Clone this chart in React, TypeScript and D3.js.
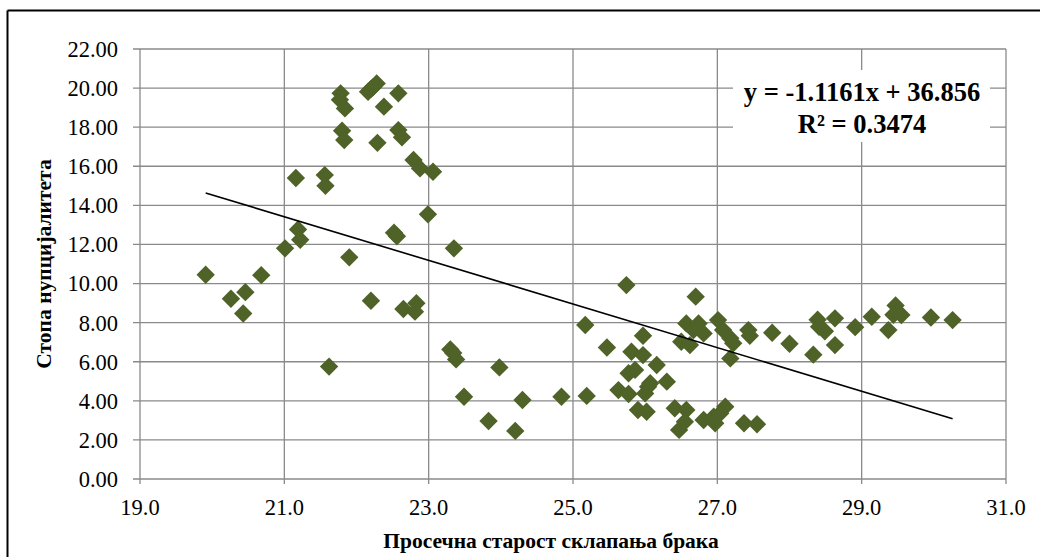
import React from "react";
import * as d3 from "d3";

// Average age at marriage (x) and nuptiality rate (y)
const ageAtMarriage: number[] = [
  19.91, 20.26, 20.46, 20.43, 20.68, 21.01, 21.19, 21.22, 21.16, 21.56,
  21.57, 21.62, 21.78, 21.77, 21.84, 21.80, 21.83, 21.90, 22.16, 22.23,
  22.28, 22.20, 22.58, 22.38, 22.58, 22.63, 22.29, 22.79, 22.88, 23.06,
  22.99, 22.52, 22.56, 23.35, 22.20, 22.65, 22.83, 22.81, 23.30, 23.38,
  23.34, 23.98, 23.49, 24.30, 23.83, 24.20, 24.84, 25.19, 25.17, 25.74,
  25.47, 25.97, 25.81, 25.97, 26.16, 25.77, 25.86, 26.30, 26.04, 25.63,
  25.77, 26.00, 25.90, 26.02, 26.07, 26.41, 26.57, 26.47, 26.55, 26.81,
  26.95, 26.97, 27.11, 27.04, 27.37, 27.55, 26.70, 26.57, 26.74, 26.50,
  26.62, 26.81, 26.67, 27.01, 27.08, 27.18, 27.22, 27.18, 27.43, 27.45,
  27.76, 28.00, 28.33, 28.39, 28.41, 28.49, 28.63, 28.63, 28.91, 29.14,
  29.37, 29.47, 29.44, 29.55, 29.96, 30.26,
];
const nuptialityRate: number[] = [
  10.45, 9.22, 9.56, 8.47, 10.43, 11.8, 12.77, 12.24, 15.4, 15.55,
  15.0, 5.75, 19.73, 19.4, 18.96, 17.82, 17.34, 11.34, 19.81, 20.05,
  20.24, 19.95, 19.73, 19.05, 17.85, 17.48, 17.2, 16.32, 15.89, 15.72,
  13.54, 12.6, 12.42, 11.8, 9.12, 8.7, 8.99, 8.56, 6.63, 6.12,
  6.45, 5.71, 4.21, 4.04, 2.97, 2.46, 4.21, 4.25, 7.88, 9.92,
  6.73, 7.33, 6.51, 6.34, 5.83, 5.41, 5.58, 4.98, 4.72, 4.55,
  4.35, 4.38, 3.53, 3.44, 4.9, 3.62, 3.53, 2.51, 2.93, 3.02,
  3.19, 2.85, 3.7, 3.36, 2.85, 2.8, 9.33, 7.96, 7.96, 7.02,
  6.85, 7.45, 7.62, 8.13, 7.62, 7.2, 6.94, 6.17, 7.62, 7.33,
  7.48, 6.92, 6.36, 8.15, 7.79, 7.56, 8.22, 6.85, 7.77, 8.3,
  7.62, 8.88, 8.4, 8.39, 8.26, 8.13,
];

const xTicks: number[] = [19, 21, 23, 25, 27, 29, 31];
const yTicks: number[] = [0, 2, 4, 6, 8, 10, 12, 14, 16, 18, 20, 22];

const slope = -1.1161;
const intercept = 36.856;
const equationText = "y = -1.1161x + 36.856";
const r2Text = "R² = 0.3474";
const xTitle = "Просечна старост склапања брака";
const yTitle = "Стопа нупцијалитета";

const W = 1040;
const H = 557;
const FONT = "'Liberation Serif', 'Times New Roman', serif";

export default function App() {
  const x = d3.scaleLinear().domain([19, 31]).range([140, 1006]);
  const y = d3.scaleLinear().domain([0, 22]).range([479, 49]);
  const grid = "#8a8a8a";
  const pts = ageAtMarriage.map((a, i) => [a, nuptialityRate[i]] as [number, number]);
  const xMin = d3.min(ageAtMarriage) as number;
  const xMax = d3.max(ageAtMarriage) as number;
  const trend = d3.line<number>()
    .x((d) => x(d))
    .y((d) => y(slope * d + intercept))([xMin, xMax]);
  const diamond = d3.symbol().type(d3.symbolDiamond2).size(215)();

  return (
    <div style={{ position: "absolute", left: 0, top: 0 }}>
      <svg width={W} height={H} style={{ display: "block", background: "#fff" }}>
        {/* outer chart border */}
        <line x1={7.5} y1={10.5} x2={W} y2={10.5} stroke="#000" strokeWidth={2} />
        <line x1={7.5} y1={10.5} x2={7.5} y2={H} stroke="#000" strokeWidth={2} />

        {/* gridlines */}
        {yTicks.map((t) => (
          <line key={"gy" + t} x1={x(19) - 7} x2={x(31)} y1={y(t)} y2={y(t)} stroke={grid} strokeWidth={1.3} />
        ))}
        {xTicks.map((t) => (
          <line key={"gx" + t} x1={x(t)} x2={x(t)} y1={y(22)} y2={y(0) + 5} stroke={grid} strokeWidth={1.3} />
        ))}

        {/* y tick labels */}
        {yTicks.map((t) => (
          <text key={"ly" + t} x={118} y={y(t)} dy="0.35em" textAnchor="end" fontFamily={FONT} fontSize={22.5} fill="#000">
            {t.toFixed(2)}
          </text>
        ))}
        {/* x tick labels */}
        {xTicks.map((t) => (
          <text key={"lx" + t} x={x(t)} y={515} textAnchor="middle" fontFamily={FONT} fontSize={22.5} fill="#000">
            {t.toFixed(1)}
          </text>
        ))}

        {/* points */}
        {pts.map(([a, r], i) => (
          <path key={"p" + i} d={diamond as string} transform={`translate(${x(a)},${y(r)})`} fill="#4F6228" />
        ))}

        {/* trendline */}
        <path d={trend as string} stroke="#000" strokeWidth={1.6} fill="none" />

        {/* equation label */}
        <rect x={733} y={70} width={257} height={72} fill="#fff" />
        <text x={862} y={101} textAnchor="middle" fontFamily={FONT} fontWeight="bold" fontSize={26.5} fill="#000">
          {equationText}
        </text>
        <text x={862} y={133} textAnchor="middle" fontFamily={FONT} fontWeight="bold" fontSize={26.5} fill="#000">
          {r2Text}
        </text>

        {/* axis titles */}
        <text x={551} y={548} textAnchor="middle" fontFamily={FONT} fontWeight="bold" fontSize={21.5} fill="#000">
          {xTitle}
        </text>
        <text transform={`translate(51,${(y(0) + y(22)) / 2}) rotate(-90)`} textAnchor="middle" fontFamily={FONT} fontWeight="bold" fontSize={21.5} fill="#000">
          {yTitle}
        </text>
      </svg>
    </div>
  );
}
